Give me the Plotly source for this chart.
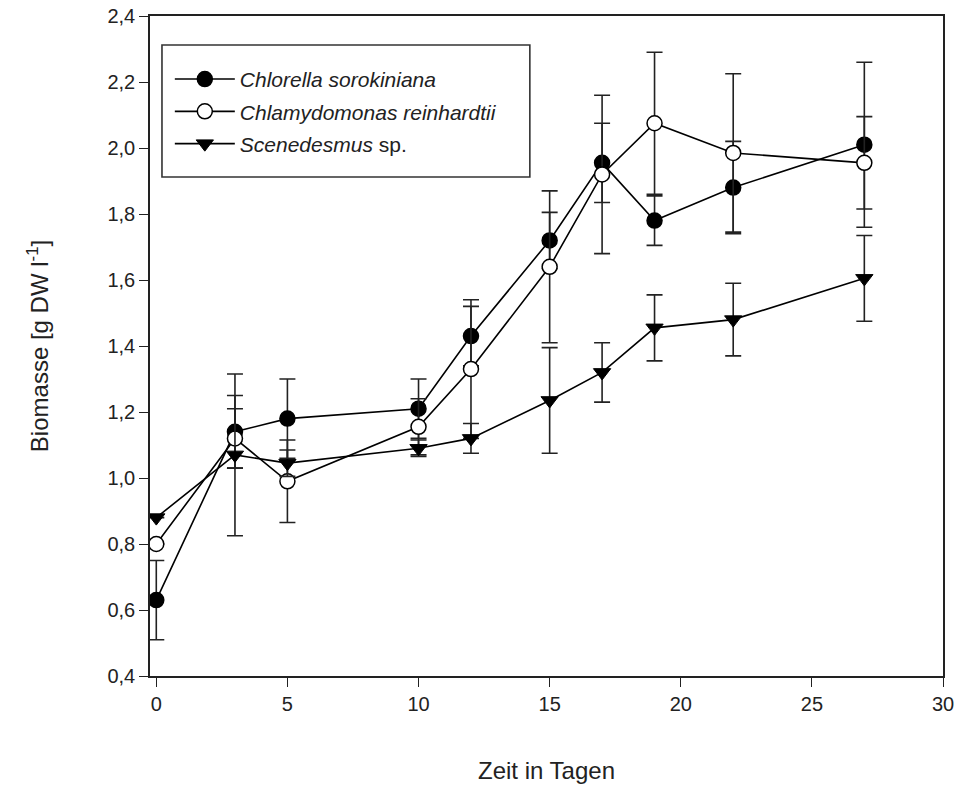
import plotly.graph_objects as go

days = [0, 3, 5, 10, 12, 15, 17, 19, 22, 27]

chlorella = [0.63, 1.14, 1.18, 1.21, 1.43, 1.72, 1.955, 1.78, 1.88, 2.01]
chlorella_err = [0.12, 0.11, 0.12, 0.09, 0.09, 0.085, 0.12, 0.075, 0.14, 0.25]

chlamy = [0.80, 1.12, 0.99, 1.155, 1.33, 1.64, 1.92, 2.075, 1.985, 1.955]
chlamy_err = [None, 0.09, 0.125, 0.085, 0.21, 0.23, 0.24, 0.215, 0.24, 0.14]

scen = [0.88, 1.07, 1.045, 1.09, 1.12, 1.235, 1.32, 1.455, 1.48, 1.605]
scen_err = [None, 0.245, 0.04, 0.025, 0.045, 0.16, 0.09, 0.10, 0.11, 0.13]

names = ["<i>Chlorella sorokiniana</i>", "<i>Chlamydomonas reinhardtii</i>", "<i>Scenedesmus</i> sp."]

x_ticks = [0, 5, 10, 15, 20, 25, 30]
y_ticks = [0.4, 0.6, 0.8, 1.0, 1.2, 1.4, 1.6, 1.8, 2.0, 2.2, 2.4]

fig = go.Figure()

series = [
    (chlorella, chlorella_err, names[0], dict(symbol="circle", color="black", size=15,
                                             line=dict(color="black", width=1.5))),
    (chlamy, chlamy_err, names[1], dict(symbol="circle", color="white", size=15,
                                       line=dict(color="black", width=1.5))),
    (scen, scen_err, names[2], dict(symbol="triangle-down", color="black", size=15,
                                   line=dict(color="black", width=1))),
]

for i, (vals, errs, name, marker) in enumerate(series):
    fig.add_trace(go.Scatter(
        x=days, y=vals, name=name, mode="lines+markers",
        line=dict(color="black", width=1.6),
        marker=marker,
        legendgroup=f"g{i}",
        error_y=dict(type="data", array=errs, visible=True, color="#222222",
                     thickness=1.6, width=8, symmetric=True),
    ))

# legend frame (box drawn as a shape so its size matches the reference)
fig.add_shape(type="rect", xref="paper", yref="paper",
              x0=0.0151, x1=0.479, y0=0.756, y1=0.956,
              line=dict(color="#333333", width=1.6), fillcolor="white", layer="above")

fig.update_layout(
    width=963, height=786,
    margin=dict(l=150, r=20, t=16, b=110),
    paper_bgcolor="white", plot_bgcolor="white",
    separators=",.",
    font=dict(family="Liberation Sans, Arial, sans-serif", color="#222222", size=18),
    showlegend=True,
    legend=dict(
        x=0.025, y=0.935, xanchor="left", yanchor="top",
        bgcolor="rgba(0,0,0,0)", borderwidth=0,
        font=dict(size=21, color="#222222"),
        itemwidth=60, tracegroupgap=2, itemsizing="trace",
        traceorder="grouped",
    ),
    xaxis=dict(
        range=[-0.24, 30.0], tickvals=x_ticks, tickformat="d",
        showgrid=False, zeroline=False, automargin=False,
        showline=True, linecolor="#222222", linewidth=1.5, mirror=True,
        ticks="outside", ticklen=9, tickwidth=1.3, tickcolor="#222222",
        tickfont=dict(size=20),
        title=dict(text="Zeit in Tagen", font=dict(size=24), standoff=48),
    ),
    yaxis=dict(
        range=[0.4, 2.4], tickvals=y_ticks, tickformat=".1f",
        showgrid=False, zeroline=False, automargin=False,
        showline=True, linecolor="#222222", linewidth=1.5, mirror=True,
        ticks="outside", ticklen=9, tickwidth=1.3, tickcolor="#222222",
        tickfont=dict(size=20),
        title=dict(text="Biomasse [g DW l<sup>-1</sup>]", font=dict(size=24), standoff=52),
    ),
)

fig.write_html("out.html")
